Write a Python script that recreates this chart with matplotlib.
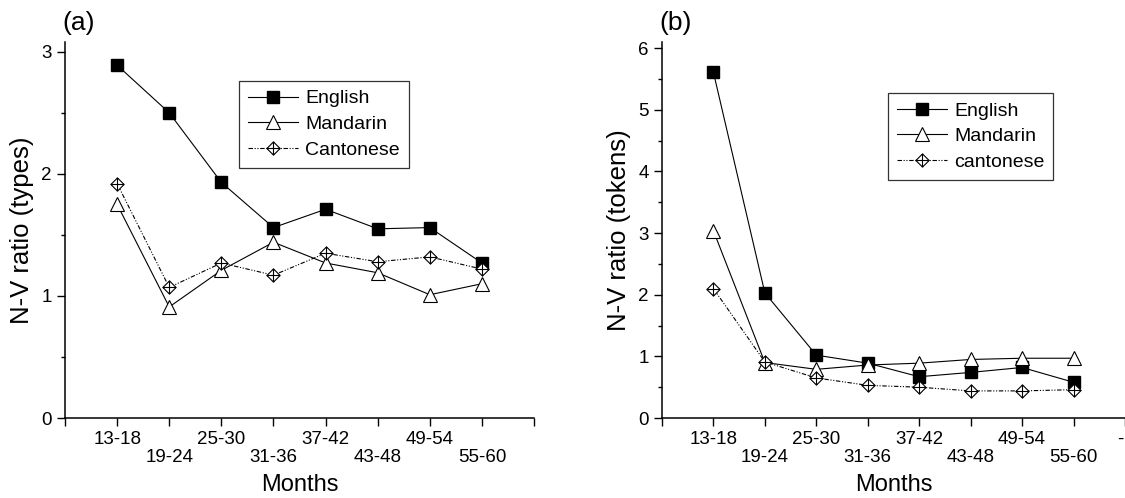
import matplotlib
matplotlib.use("Agg")
import matplotlib.pyplot as plt
from matplotlib.path import Path
import numpy as np

plt.rcParams['font.family'] = ['Liberation Sans', 'DejaVu Sans']

# age bands (months)
months = ["13-18", "19-24", "25-30", "31-36", "37-42", "43-48", "49-54", "55-60"]

# (a) N-V ratio, types
types_english = [2.89, 2.50, 1.93, 1.56, 1.71, 1.55, 1.56, 1.27]
types_mandarin = [1.75, 0.91, 1.21, 1.44, 1.27, 1.19, 1.01, 1.10]
types_cantonese = [1.92, 1.07, 1.27, 1.17, 1.35, 1.28, 1.32, 1.22]

# (b) N-V ratio, tokens
tokens_english = [5.61, 2.03, 1.02, 0.89, 0.67, 0.74, 0.82, 0.58]
tokens_mandarin = [3.04, 0.90, 0.79, 0.86, 0.89, 0.95, 0.97, 0.97]
tokens_cantonese = [2.10, 0.91, 0.65, 0.53, 0.50, 0.44, 0.44, 0.46]

# diamond with a cross inside (Origin style)
verts = [(0, 1), (1, 0), (0, -1), (-1, 0), (0, 1), (0, 1), (0, -1), (-1, 0), (1, 0)]
codes = [Path.MOVETO, Path.LINETO, Path.LINETO, Path.LINETO, Path.CLOSEPOLY,
         Path.MOVETO, Path.LINETO, Path.MOVETO, Path.LINETO]
crossed_diamond = Path(verts, codes)

dashdotdot = (0, (4, 1.5, 1, 1.5, 1, 1.5))


def draw_panel(ax, eng, man, can, ymax, ylabel, tag, legend_names, legend_pos):
    x = np.arange(1, len(months) + 1)
    ax.plot(x, eng, color="black", lw=0.8, marker="s", ms=8,
            mfc="black", mec="black", label=legend_names[0])
    ax.plot(x, man, color="black", lw=0.8, marker="^", ms=9.5,
            mfc="white", mec="black", mew=0.8, label=legend_names[1])
    ax.plot(x, can, color="black", lw=0.8, ls=dashdotdot, marker=crossed_diamond,
            ms=9.5, mfc="white", mec="black", mew=0.8, label=legend_names[2])

    ax.set_xlim(0, len(months) + 1)
    ax.set_ylim(0, ymax)
    labels = [""] + [m if i % 2 == 0 else "\n" + m for i, m in enumerate(months)] + [""]
    ax.set_xticks(np.arange(0, len(months) + 2), labels)
    for t in ax.get_xticklabels():
        t.set_linespacing(1.05)
    ax.set_yticks(np.arange(0, int(ymax) + 1))
    ax.set_yticks(np.arange(0.5, ymax, 1.0), minor=True)

    for s in ["top", "right"]:
        ax.spines[s].set_visible(False)
    for s in ["left", "bottom"]:
        ax.spines[s].set_linewidth(1.1)
    ax.tick_params(which="major", direction="out", length=6, width=1.0,
                   labelsize=13.5, pad=3.5)
    ax.tick_params(which="minor", direction="out", length=3, width=1.0)

    ax.set_xlabel("Months", fontsize=17, labelpad=5.5)
    ax.set_ylabel(ylabel, fontsize=18.5, labelpad=5)
    ax.text(-0.005, 1.02, tag, transform=ax.transAxes, fontsize=19,
            ha="left", va="bottom")

    leg = ax.legend(loc="upper left", bbox_to_anchor=legend_pos, borderaxespad=0,
                    fontsize=14, fancybox=False, edgecolor="black",
                    handlelength=2.6, handletextpad=0.35, labelspacing=0.42,
                    borderpad=0.45)
    leg.get_frame().set_linewidth(0.9)


fig = plt.figure(figsize=(11.25, 4.98), dpi=100)
ax1 = fig.add_axes([0.0578, 0.1606, 0.4169, 0.755])
ax2 = fig.add_axes([0.5884, 0.1606, 0.4116, 0.755])

draw_panel(ax1, types_english, types_mandarin, types_cantonese, 3.08,
           "N-V ratio (types)", "(a)", ["English", "Mandarin", "Cantonese"],
           (0.371, 0.896))
draw_panel(ax2, tokens_english, tokens_mandarin, tokens_cantonese, 6.1,
           "N-V ratio (tokens)", "(b)", ["English", "Mandarin", "cantonese"],
           (0.488, 0.864))

# stray label fragment at the right edge of the original figure
fig.text(0.9985, 0.118, "-", fontsize=13.5, ha="right", va="center")

fig.savefig("out.png", dpi=100)
